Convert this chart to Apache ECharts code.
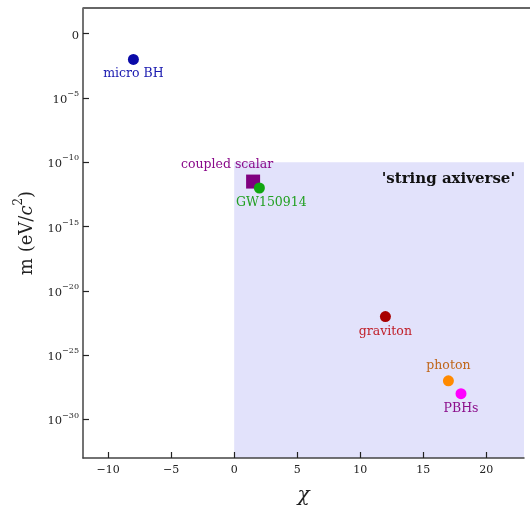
<!DOCTYPE html>
<html><head><meta charset="utf-8">
<script src="https://cdn.jsdelivr.net/npm/echarts@6/dist/echarts.min.js"></script>
<style>html,body{margin:0;padding:0;background:#fff}#c{width:530px;height:511px}</style>
</head><body><div id="c"></div>
<script>
const names = ['micro BH', 'coupled scalar', 'GW150914', 'graviton', 'photon', 'PBHs'];
const chi = [-8, 1.5, 2, 12, 17, 18];
const mass = [1e-2, 10 ** -11.5, 1e-12, 1e-22, 1e-27, 1e-28];
const markerColors = ['#0a0aa8', '#800080', '#11a611', '#a80000', '#ff8a00', '#ff00ff'];
const labelColors = ['#1a1ab0', '#8a0a8a', '#22a022', '#c0202a', '#c0661a', '#8c108c'];
const symbols = ['circle', 'rect', 'circle', 'circle', 'circle', 'circle'];
const labelPos = ['bottom', 'top', 'bottom', 'bottom', 'top', 'bottom'];
const labelOffset = [[0, -1], [-26, 0], [12, 0], [0, 0], [0, 0], [0, 0]];
const xTicks = [-10, -5, 0, 5, 10, 15, 20];
const yTickExps = [0, -5, -10, -15, -20, -25, -30];
const yTicks = yTickExps.map(e => 10 ** e);
const regionName = "'string axiverse'";
const regionX = [0, 23];
const regionY = [1e-10, 1e-33];

const serif = 'DejaVu Serif';
const data = names.map((n, i) => ({
  name: n,
  value: [chi[i], mass[i]],
  symbol: symbols[i],
  symbolSize: symbols[i] === 'rect' ? 14 : 11,
  itemStyle: { color: markerColors[i], opacity: 1 },
  label: {
    show: true, formatter: n, position: labelPos[i], offset: labelOffset[i], distance: 3,
    color: labelColors[i], fontFamily: serif, fontSize: 12.5, opacity: 1
  }
}));

const chart = echarts.init(document.getElementById('c'), null, { renderer: 'canvas' });
chart.setOption({
  animation: false,
  grid: { left: 83, right: 6, top: 8, bottom: 51, containLabel: false },
  xAxis: {
    type: 'value', min: -12, max: 23, z: 10,
    name: 'χ', nameLocation: 'middle', nameGap: 28,
    nameTextStyle: { fontFamily: serif, fontStyle: 'italic', fontSize: 20, color: '#222' },
    axisLine: { onZero: false, lineStyle: { color: '#444', width: 1.5 } },
    axisTick: { show: true, inside: true, length: 6, customValues: xTicks, lineStyle: { color: '#222', width: 1.2 } },
    axisLabel: { customValues: xTicks, fontFamily: serif, fontSize: 11, color: '#222', margin: 7,
      formatter: v => String(v).replace('-', '\u2212') },
    splitLine: { show: false }
  },
  yAxis: {
    type: 'log', logBase: 10, min: 1e-33, max: 1e2, z: 10,
    name: '{n|m (eV/}{i|c}{s|2}{n|)}', nameLocation: 'middle', nameGap: 46, nameRotate: 90,
    nameTextStyle: { rich: {
      n: { fontFamily: serif, fontSize: 18, color: '#222', lineHeight: 24, verticalAlign: 'bottom' },
      i: { fontFamily: serif, fontStyle: 'italic', fontSize: 18, color: '#222', lineHeight: 24, verticalAlign: 'bottom' },
      s: { fontFamily: serif, fontSize: 12, color: '#222', lineHeight: 24, verticalAlign: 'top' }
    } },
    axisLine: { show: true, onZero: false, lineStyle: { color: '#444', width: 1.5 } },
    axisTick: { show: true, inside: true, length: 6, customValues: yTicks, lineStyle: { color: '#222', width: 1.2 } },
    axisLabel: { customValues: yTicks, margin: 4,
      formatter: v => { const e = Math.round(Math.log10(v)); return e === 0 ? '{b|0}' : '{b|10}{s|' + String(e).replace('-', '\u2212') + '}'; },
      rich: {
        b: { fontFamily: serif, fontSize: 11.5, color: '#222', lineHeight: 16, verticalAlign: 'bottom' },
        s: { fontFamily: serif, fontSize: 8, color: '#222', lineHeight: 16, verticalAlign: 'top' }
      } },
    splitLine: { show: false }
  },
  graphic: [{ type: 'line', shape: { x1: 83, y1: 8, x2: 530, y2: 8 }, style: { stroke: '#666', lineWidth: 2 }, z: 100 }],
  series: [{
    type: 'scatter', data: data, z: 5,
    markArea: {
      silent: true,
      itemStyle: { color: '#e2e2fb', opacity: 1 },
      label: { show: true, position: 'insideTopRight', distance: 9, color: '#111', fontFamily: serif,
        fontWeight: 'bold', fontSize: 15 },
      data: [[{ name: regionName, coord: [regionX[0], regionY[0]] }, { coord: [regionX[1], regionY[1]] }]]
    }
  }]
});
</script></body></html>
